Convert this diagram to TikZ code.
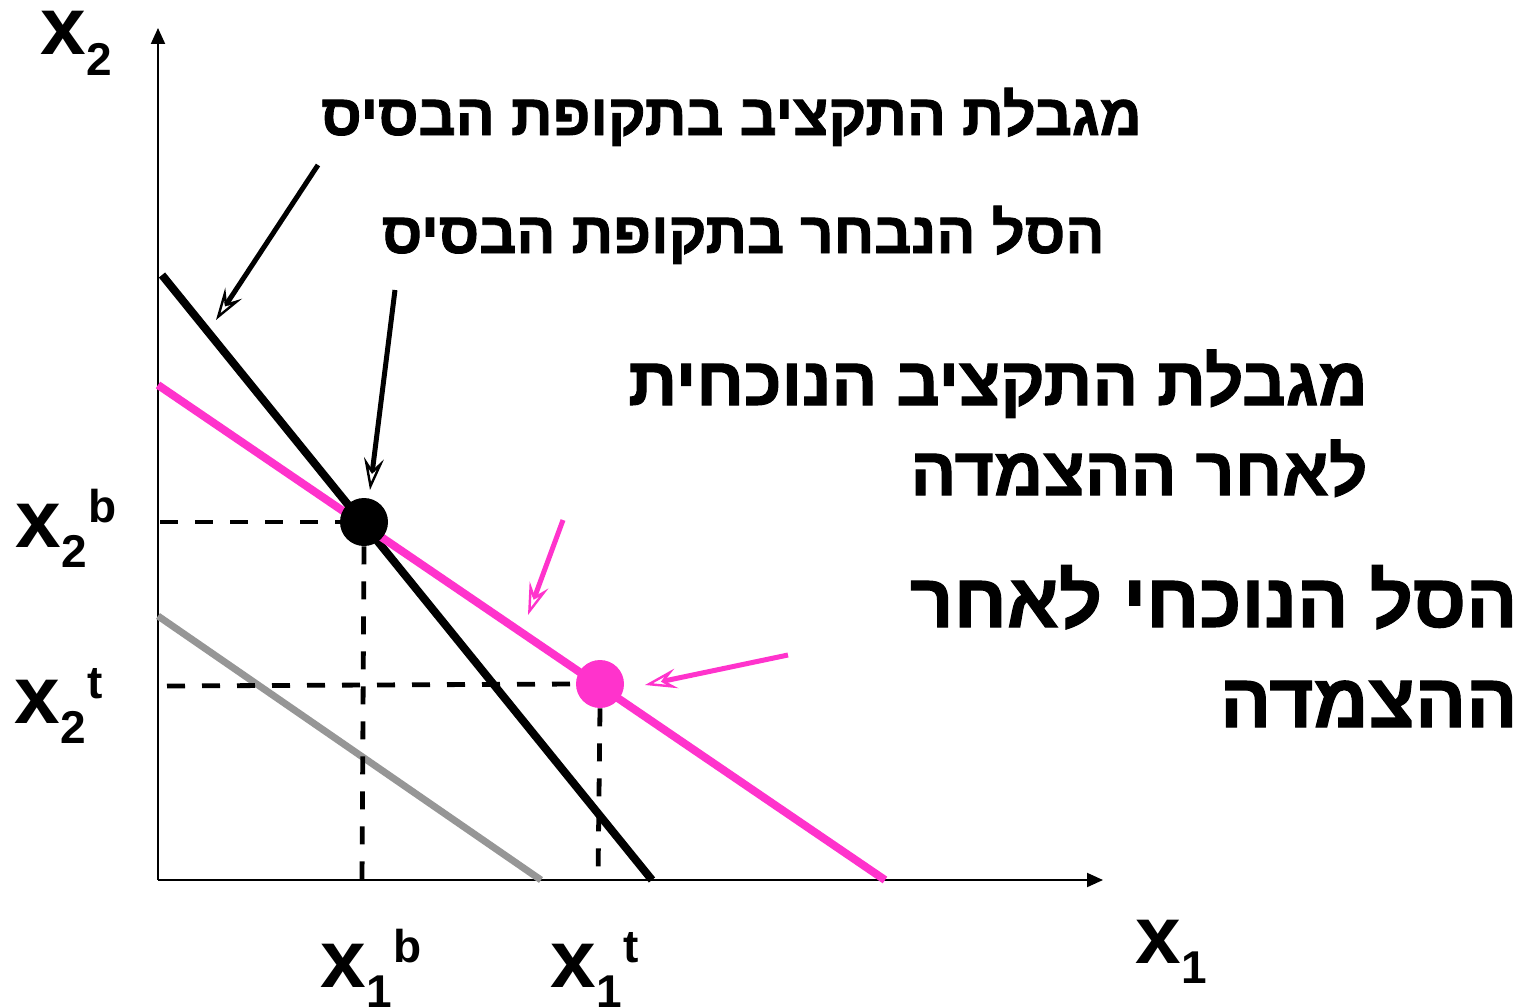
\documentclass[tikz,border=0pt]{standalone}
\usepackage{fontspec}
\setmainfont{Liberation Sans}
\newfontfamily\hebfont[Script=Hebrew, BoldFeatures={FakeBold=1.5}]{Liberation Sans}
\TeXXeTstate=1
\usetikzlibrary{arrows.meta}
\definecolor{pinkline}{HTML}{FF33CC}
\definecolor{greyline}{HTML}{969696}
\newcommand\varlbl[2]{x\raisebox{-0.25em}{\fontsize{23}{23}\selectfont #1}\hspace{1pt}\raisebox{0.3em}{\fontsize{23}{23}\selectfont #2}}

\begin{document}
\begin{tikzpicture}[
    x=0.5pt, y=-0.5pt,
    axis/.style={line width=1pt, -{Triangle[length=8pt, width=7pt]}},
    budget/.style={line width=4pt},
    guide/.style={line width=2.4pt, dash pattern=on 9pt off 8.5pt},
    pointer/.style={line width=2.5pt, -{Stealth[open, length=16pt, width=10pt, inset=6pt, line width=1.2pt]}},
    dot/.style={circle, inner sep=0pt, minimum size=24pt},
    var/.style={inner sep=0pt, anchor=base west, font=\bfseries\fontsize{41}{41}\selectfont},
    heb/.style={inner sep=0pt, anchor=base east, align=right, font=\hebfont\bfseries\fontsize{29}{45}\selectfont},
]
\useasboundingbox (0,0) rectangle (1525,1006);

% axes
\coordinate (O) at (158,880);
\draw[axis] (O) -- (158,28);
\draw[axis] (O) -- (1103,880);

% budget lines
\draw[budget, greyline, line width=3.5pt] (158,616) -- (541,880);
\draw[budget] (162,275) -- (652,880);
\draw[budget, pinkline] (158,385) -- (885,880);

% chosen baskets
\node[dot, fill=black] (bdot) at (364,522) {};
\node[dot, fill=pinkline] (tdot) at (600,684) {};

\draw[guide] (160,522) -- (bdot.west);
\draw[guide] (bdot.south) -- (362,880);
\draw[guide] (167,686) -- (tdot.west);
\draw[guide] (tdot.south) -- (598,880);

% axis labels
\node[var] (x2) at (40,55) {\varlbl{2}{}};
\node[var] (x1) at (1135,963) {\varlbl{1}{}};
\node[var] (x2b) at (15,547) {\varlbl{2}{b}};
\node[var] (x2t) at (14,723) {\varlbl{2}{t}};
\node[var] (x1b) at (320,987) {\varlbl{1}{b}};
\node[var] (x1t) at (550,987) {\varlbl{1}{t}};

% Hebrew captions
\node[heb] (lblbase) at (1142,135) {\beginR מגבלת התקציב בתקופת הבסיס\endR};
\node[heb] (lblbasket) at (1105,253) {\beginR הסל הנבחר בתקופת הבסיס\endR};
\node[heb, font=\hebfont\bfseries\fontsize{34}{45}\selectfont] (lblnow) at (1368,495)
    {\beginR מגבלת התקציב הנוכחית\endR\\\beginR לאחר ההצמדה\endR};
\node[heb, font=\hebfont\bfseries\fontsize{38}{50}\selectfont] (lblnowbasket) at (1518,727)
    {\beginR הסל הנוכחי לאחר\endR\\\beginR ההצמדה\endR};

% pointers
\coordinate (p1) at (318,165);
\coordinate (p1e) at (216,320);
\coordinate (p2) at (395,290);
\coordinate (p2e) at (370,490);
\coordinate (p3) at (563,520);
\coordinate (p3e) at (528,615);
\coordinate (p4) at (788,655);
\coordinate (p4e) at (645,685);
\draw[pointer] (p1) -- (p1e);
\draw[pointer] (p2) -- (p2e);
\draw[pointer, pinkline] (p3) -- (p3e);
\draw[pointer, pinkline] (p4) -- (p4e);
\end{tikzpicture}
\end{document}
